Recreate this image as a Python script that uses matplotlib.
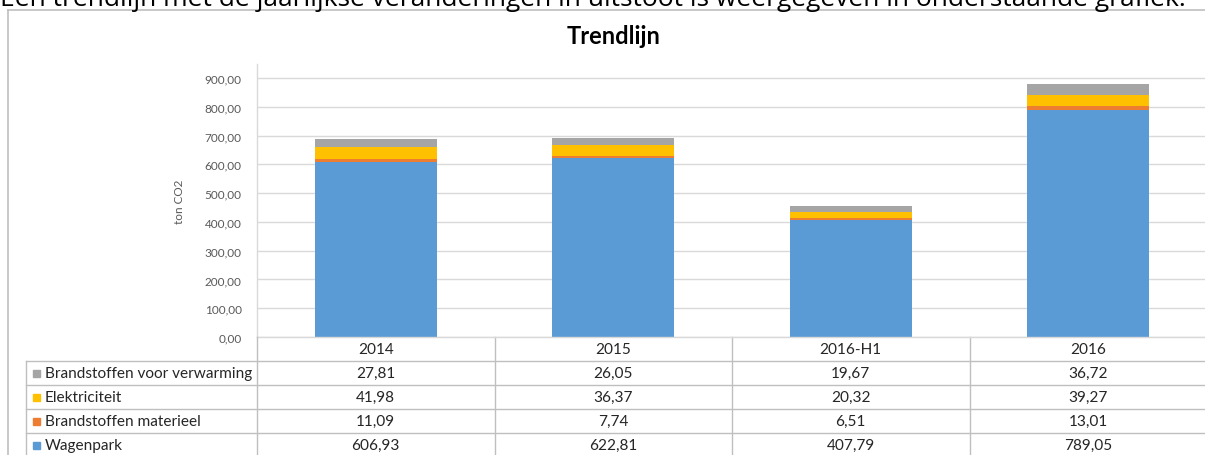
import matplotlib
matplotlib.use("Agg")
import matplotlib.pyplot as plt
from matplotlib.lines import Line2D
from matplotlib.patches import Rectangle
from matplotlib.transforms import blended_transform_factory
import numpy as np

# ---- data ----
categories = ['2014', '2015', '2016-H1', '2016']
wagenpark = [606.93, 622.81, 407.79, 789.05]
materieel = [11.09, 7.74, 6.51, 13.01]
elektriciteit = [41.98, 36.37, 20.32, 39.27]
verwarming = [27.81, 26.05, 19.67, 36.72]
series_names = ['Wagenpark', 'Brandstoffen materieel', 'Elektriciteit', 'Brandstoffen voor verwarming']
series_values = [wagenpark, materieel, elektriciteit, verwarming]
colors = ['#5B9BD5', '#ED7D31', '#FFC000', '#A5A5A5']
yticks = [0, 100, 200, 300, 400, 500, 600, 700, 800, 900]

W, H = 1205, 456
DPI = 100
fig = plt.figure(figsize=(W / DPI, H / DPI), dpi=DPI)
FONT = 'Lato'

def fx(px):
    return px / W

def fy(py):
    return 1 - py / H

# intro sentence (cropped at top)
fig.text(fx(0), fy(6), 'Een trendlijn met de jaarlijkse veranderingen in uitstoot is weergegeven in onderstaande grafiek.',
         family='Open Sans', fontsize=19, va='baseline', ha='left', color='black')

frame_c = '#BFBFBF'
fig.add_artist(Line2D([fx(8), fx(8)], [fy(11), 0], color=frame_c, lw=1.2))
fig.add_artist(Line2D([fx(8), 1], [fy(11), fy(11)], color=frame_c, lw=1.2))

# plot axes
ax_l, ax_r, ax_b, ax_t = 257, 1207, 338, 65
ax = fig.add_axes([fx(ax_l), fy(ax_b), fx(ax_r - ax_l), (ax_b - ax_t) / H])
x = np.arange(len(categories))
bottom = np.zeros(len(categories))
for name, vals, c in zip(series_names, series_values, colors):
    ax.bar(x, vals, width=0.515, bottom=bottom, color=c, label=name, zorder=3)
    bottom += np.array(vals)

ax.set_xlim(-0.5, len(categories) - 0.5)
top = 900 + (79 - ax_t) / ((ax_b - 79) / 900)
ax.set_ylim(0, top)
ax.set_yticks(yticks)
ax.set_yticklabels([f"{v:.2f}".replace('.', ',') for v in yticks], family=FONT, fontsize=8.5, color='#595959')
ax.tick_params(axis='y', length=0, pad=11)
ax.set_xticks([])
ax.grid(axis='y', color='#D9D9D9', lw=1.0, zorder=0)
for s in ['top', 'right', 'bottom']:
    ax.spines[s].set_visible(False)
ax.spines['left'].set_color('#D9D9D9')
ax.spines['left'].set_linewidth(1.0)
ax.set_ylabel('ton CO2', family=FONT, fontsize=8.5, color='#595959', labelpad=14)

fig.text(fx(614), fy(36), 'Trendlijn', family=FONT, fontsize=17, fontweight='bold',
         ha='center', va='center', color='black')

# data table
tc = '#BFBFBF'
trans = blended_transform_factory(ax.transData, fig.transFigure)
row_lines = [338, 362, 386, 410, 434]
fig.add_artist(Line2D([fx(257), 1], [fy(338), fy(338)], color='#D9D9D9', lw=1.0))
for yl in row_lines[1:]:
    fig.add_artist(Line2D([fx(26), 1], [fy(yl), fy(yl)], color=tc, lw=1.0))
fig.add_artist(Line2D([fx(26), fx(26)], [fy(362), 0], color=tc, lw=1.0))
fig.add_artist(Line2D([fx(257), fx(257)], [fy(338), 0], color=tc, lw=1.0))
for i in range(1, len(categories)):
    xb = i - 0.5
    ax.add_artist(Line2D([xb, xb], [fy(338), 0], color=tc, lw=1.0, transform=trans, clip_on=False))

tfs = 11.1
for i, cat in enumerate(categories):
    ax.text(i, fy(350), cat, transform=trans, ha='center', va='center', family=FONT, fontsize=tfs,
            color='#262626', clip_on=False)

table_order = [3, 2, 1, 0]
for r, si in enumerate(table_order):
    yc = fy(374 + 24 * r)
    fig.add_artist(Rectangle((fx(33), yc - 3.5 / H), 7 / W, 7 / H, color=colors[si], transform=fig.transFigure))
    fig.text(fx(45), yc, series_names[si], family=FONT, fontsize=tfs, ha='left', va='center', color='#262626')
    for i, v in enumerate(series_values[si]):
        ax.text(i, yc, f"{v:.2f}".replace('.', ','), transform=trans, ha='center', va='center',
                family=FONT, fontsize=tfs, color='#262626', clip_on=False)

fig.savefig('out.png', dpi=DPI)
